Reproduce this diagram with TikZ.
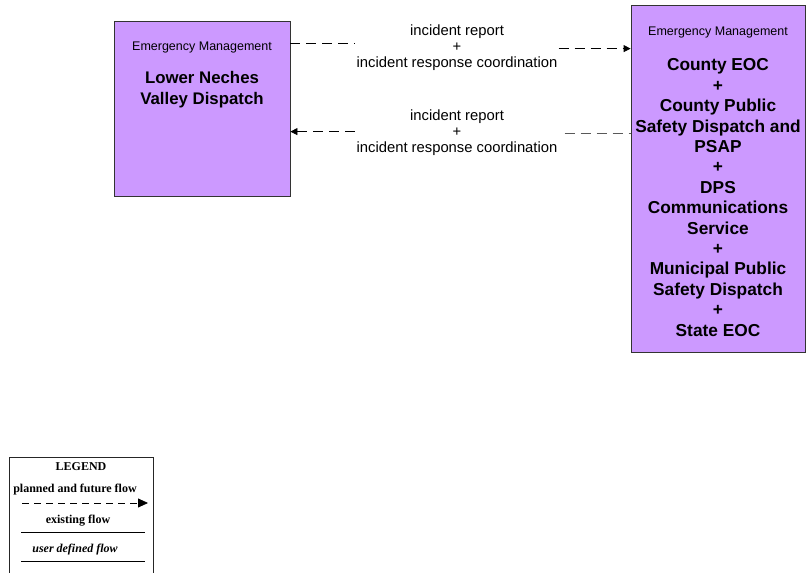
\documentclass[tikz,border=0pt]{standalone}
\usepackage{fontspec}
\setmainfont{Liberation Sans}
\newfontfamily\legendfont{Liberation Serif}
\usetikzlibrary{arrows.meta}
\definecolor{sysfill}{HTML}{CC99FF}

\begin{document}
\begin{tikzpicture}[x=1pt,y=-1pt,>={Triangle[length=7pt,width=7pt]},
  sysbox/.style={draw=black!80,fill=sysfill,line width=0.8pt,inner sep=0pt},
  cat/.style={font=\fontsize{12.5}{14}\selectfont,inner sep=0pt},
  sysname/.style={font=\fontsize{17.3}{20.4}\selectfont\bfseries,align=center,inner sep=0pt},
  flowlbl/.style={fill=white,inner sep=1pt,align=center,font=\fontsize{14.8}{16}\selectfont},
  flow/.style={dash pattern=on 10pt off 6pt,line width=0.8pt},
  legtxt/.style={font=\legendfont\fontsize{12}{13}\selectfont\bfseries,inner sep=0pt}]
  \useasboundingbox (0,0) rectangle (806,573);
  % systems
  \node[sysbox,minimum width=176pt,minimum height=175pt] (lvd) at (202,108.5) {};
  \node[cat] (lvdcat) at (202,47) {Emergency Management};
  \node[sysname,font=\fontsize{16.8}{21}\selectfont\bfseries] (lvdname) at (202,89.5)
    {Lower Neches\\Valley Dispatch};
  \node[sysbox,minimum width=174pt,minimum height=347pt] (eoc) at (718,178.5) {};
  \node[cat] (eoccat) at (718,32) {Emergency Management};
  \node[sysname] (eocname) at (718,197.5)
    {County EOC\\+\\County Public\\Safety Dispatch and\\PSAP\\+\\DPS\\Communications\\Service\\+\\Municipal Public\\Safety Dispatch\\+\\State EOC};
  % flows
  \node[flowlbl] (rep1) at (457,48) {incident report\\+\\incident response coordination};
  \node[flowlbl] (rep2) at (457,133) {incident report\\+\\incident response coordination};
  \coordinate (t1) at ([yshift=-23pt]lvd.north east);
  \coordinate (t2) at ([yshift=-44pt]eoc.north west);
  \draw[flow] (t1) -- (t1 -| rep1.west);
  \draw[flow,->] (t2 -| rep1.east) -- (t2);
  \coordinate (b1) at ([yshift=-111pt]lvd.north east);
  \coordinate (b2) at ([yshift=-129pt]eoc.north west);
  \draw[flow,<-] (b1) -- (b1 -| rep2.west);
  \draw[flow,black!65] ([xshift=6pt]b2 -| rep2.east) -- (b2);
  % legend
  \draw[black!85,line width=0.8pt] (9,575) -- (9,457) -- (153,457) -- (153,575);
  \node[legtxt] (lg) at (81,467) {LEGEND};
  \node[legtxt] (lgplan) at (75,490) {planned and future flow};
  \draw[dash pattern=on 7pt off 5pt,line width=0.8pt,-{Triangle[length=10pt,width=9pt]}] (22,503) -- (148,503);
  \node[legtxt] (lgexist) at (78,521) {existing flow};
  \draw[line width=0.8pt] (21,532) -- (145,532);
  \node[legtxt,font=\legendfont\fontsize{12}{13}\selectfont\bfseries\itshape] (lguser) at (75,550) {user defined flow};
  \draw[line width=0.8pt] (21,561) -- (145,561);
\end{tikzpicture}
\end{document}
